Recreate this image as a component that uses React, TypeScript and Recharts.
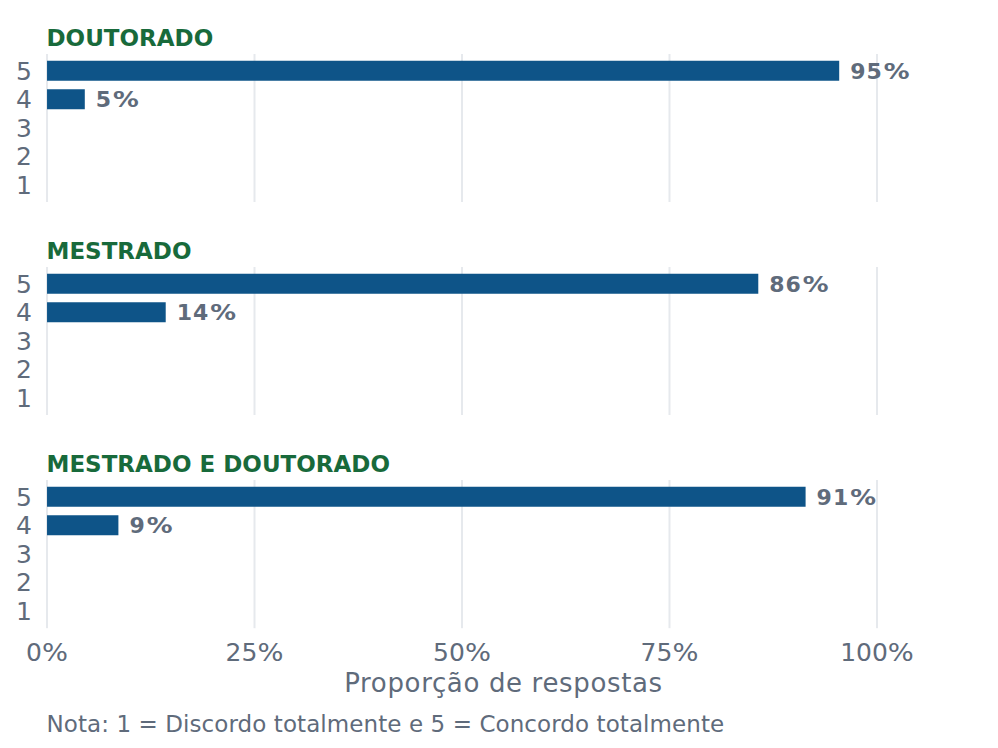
import React from 'react';
import { BarChart, Bar, XAxis, YAxis, CartesianGrid, LabelList } from 'recharts';

const categories = ['5', '4', '3', '2', '1'];
const facetTitles = ['DOUTORADO', 'MESTRADO', 'MESTRADO E DOUTORADO'];
const doutorado = [95.45, 4.55, 0, 0, 0];
const mestrado = [85.7, 14.3, 0, 0, 0];
const mestradoDoutorado = [91.4, 8.6, 0, 0, 0];
const xTicks = [0, 25, 50, 75, 100];
const xMax = 110;
const xTitle = 'Proporção de respostas';
const noteText = 'Nota: 1 = Discordo totalmente e 5 = Concordo totalmente';

const FONT = '"DejaVu Sans", Verdana, sans-serif';
const BAR = '#0e5488';
const GRAY = '#5f6b7b';
const GREEN = '#186a3b';
const GRID = '#e6e9ed';

const PANEL_H = 148.2;
const FACET_STEP = 213;
const FIRST_TOP = 53.9;
const X_AXIS_H = 40;

const facets = [
  { title: facetTitles[0], values: doutorado },
  { title: facetTitles[1], values: mestrado },
  { title: facetTitles[2], values: mestradoDoutorado },
];

const renderBarLabel = (props: any) => {
  const { x, y, width, height, value } = props;
  if (!value) return null;
  const n = Math.round(Number(value));
  return (
    <text
      x={Number(x) + Number(width) + 11}
      y={Number(y) + Number(height) / 2}
      dy="0.36em"
      fill={GRAY}
      fontSize={22}
      fontWeight="bold"
      letterSpacing={1}
      fontFamily={FONT}
    >
      {n}
      <tspan dx={1} textLength={27} lengthAdjust="spacingAndGlyphs">%</tspan>
    </text>
  );
};

const renderXTick = (props: any) => {
  const { x, y, payload } = props;
  return (
    <text x={x} y={y} dy="0.71em" textAnchor="middle" fill={GRAY} fontSize={25} fontFamily={FONT}>
      {payload.value}
      <tspan textLength={26} lengthAdjust="spacingAndGlyphs">%</tspan>
    </text>
  );
};

const gridX = (args: any) => {
  const { xAxis, offset } = args || {};
  if (xAxis && typeof xAxis.scale === 'function') {
    return xTicks.map((t) => xAxis.scale(t));
  }
  return xTicks.map((t) => offset.left + (t / xMax) * offset.width);
};

function Facet({ values, top, showX }: { values: number[]; top: number; showX: boolean }) {
  const data = categories.map((c, i) => ({ cat: c, value: values[i] }));
  const height = PANEL_H + (showX ? X_AXIS_H : 0);
  return (
    <div style={{ position: 'absolute', left: 0, top }}>
      <BarChart
        width={998}
        height={height}
        data={data}
        layout="vertical"
        margin={{ top: 0, right: 38, bottom: 0, left: 0 }}
      >
        <CartesianGrid
          horizontal={false}
          stroke={GRID}
          strokeWidth={2}
          verticalCoordinatesGenerator={gridX}
        />
        <XAxis
          type="number"
          domain={[0, xMax]}
          ticks={xTicks}
          hide={!showX}
          height={showX ? X_AXIS_H : 0}
          axisLine={false}
          tickLine={false}
          tickSize={0}
          tickMargin={15}
          tick={renderXTick}
          interval={0}
        />
        <YAxis
          type="category"
          dataKey="cat"
          width={47}
          axisLine={false}
          tickLine={false}
          tickSize={0}
          tickMargin={15}
          padding={{ top: 2.85, bottom: 2.85 }}
          tick={{ fill: GRAY, fontSize: 25, fontFamily: FONT }}
          interval={0}
        />
        <Bar dataKey="value" fill={BAR} barSize={20} isAnimationActive={false}>
          <LabelList dataKey="value" content={renderBarLabel} />
        </Bar>
      </BarChart>
    </div>
  );
}

export default function App() {
  return (
    <div
      style={{
        position: 'absolute',
        left: 0,
        top: 0,
        width: 998,
        height: 748,
        background: '#ffffff',
        overflow: 'hidden',
      }}
    >
      {facets.map((f, i) => (
        <Facet key={f.title} values={f.values} top={FIRST_TOP + i * FACET_STEP} showX={i === facets.length - 1} />
      ))}
      <svg
        width={998}
        height={748}
        style={{ position: 'absolute', left: 0, top: 0, pointerEvents: 'none' }}
      >
        {facets.map((f, i) => (
          <text
            key={f.title}
            x={46.5}
            y={46.1 + i * FACET_STEP}
            fill={GREEN}
            fontSize={23}
            fontWeight="bold"
            fontFamily={FONT}
          >
            {f.title}
          </text>
        ))}
        <text
          x={503.5}
          y={692}
          textAnchor="middle"
          fill={GRAY}
          fontSize={26}
          letterSpacing={0.65}
          fontFamily={FONT}
        >
          {xTitle}
        </text>
        <text x={46.5} y={732} fill={GRAY} fontSize={23} letterSpacing={0.08} fontFamily={FONT}>
          {noteText}
        </text>
      </svg>
    </div>
  );
}
